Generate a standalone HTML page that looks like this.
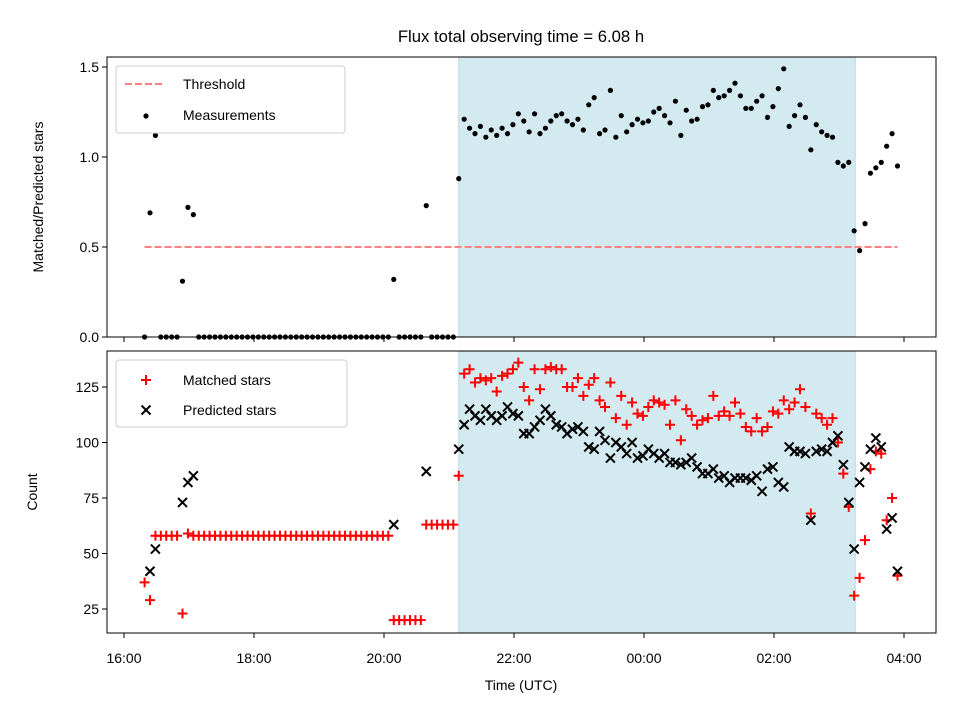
<!DOCTYPE html>
<html><head><meta charset="utf-8"><style>
body{margin:0;background:#fff}
svg{display:block;font-family:"Liberation Sans","DejaVu Sans",sans-serif}
</style></head><body>
<svg id="chart" width="960" height="720" viewBox="0 0 960 720" xmlns="http://www.w3.org/2000/svg">
<rect width="960" height="720" fill="#fff"/>
<text x="521" y="42" font-size="16.7" text-anchor="middle">Flux total observing time = 6.08 h</text>
<g id="gtop"></g><g id="gbot"></g>
</svg>
<script>
// minutes after 16:00
const times=[19,24,29,34,39,44,49,54,59,64,69,74,79,84,89,94,99,104,109,114,119,124,129,134,139,144,149,154,159,164,169,174,179,184,189,194,199,204,209,214,219,224,229,234,239,244,249,254,259,264,269,274,279,284,289,294,299,304,309,314,319,324,329,334,339,344,349,354,359,364,369,374,379,384,389,394,399,404,409,414,419,424,429,434,439,444,449,454,459,464,469,474,479,484,489,494,499,504,509,514,519,524,529,534,539,544,549,554,559,564,569,574,579,584,589,594,599,604,609,614,619,624,629,634,639,644,649,654,659,664,669,674,679,684,689,694,699,704,709,714];
const ratio=[0,0.69,1.12,0,0,0,0,0.31,0.72,0.68,0,0,0,0,0,0,0,0,0,0,0,0,0,0,0,0,0,0,0,0,0,0,0,0,0,0,0,0,0,0,0,0,0,0,0,0,0.32,0,0,0,0,0,0.73,0,0,0,0,0,0.88,
1.21,1.16,1.13,1.17,1.11,1.15,1.12,1.16,1.13,1.18,1.24,1.20,1.14,1.24,1.13,1.16,1.20,1.23,1.24,1.20,1.18,1.21,1.15,1.29,1.33,1.13,1.15,1.37,1.11,1.23,1.14,1.18,1.21,1.19,1.20,1.25,1.27,1.23,1.19,1.31,1.12,1.26,1.20,1.21,1.28,1.29,1.37,1.33,1.34,1.37,1.41,1.34,1.27,1.27,1.31,1.34,1.22,1.28,1.38,1.49,1.17,1.23,1.29,1.22,1.04,1.18,1.14,1.12,1.11,0.97,0.95,0.97,0.59,0.48,0.63,0.91,0.94,0.97,1.06,1.13,0.95];
const matched=[37,29,58,58,58,58,58,23,59,58,58,58,58,58,58,58,58,58,58,58,58,58,58,58,58,58,58,58,58,58,58,58,58,58,58,58,58,58,58,58,58,58,58,58,58,58,20,20,20,20,20,20,63,63,63,63,63,63,85,
131,133,127,129,128,129,123,130,131,133,136,125,119,133,124,133,134,133,133,125,125,129,121,126,129,119,116,127,111,121,108,118,113,112,116,119,118,117,108,119,101,115,112,108,110,111,121,112,114,112,118,113,107,105,111,105,107,114,113,119,115,118,124,116,68,113,111,108,111,100,86,71,31,39,56,88,96,95,65,75,40];
const predicted=[null,42,52,null,null,null,null,73,82,85,null,null,null,null,null,null,null,null,null,null,null,null,null,null,null,null,null,null,null,null,null,null,null,null,null,null,null,null,null,null,null,null,null,null,null,null,63,null,null,null,null,null,87,null,null,null,null,null,97,
108,115,112,110,115,112,110,112,116,113,112,104,104,107,110,115,112,108,107,104,106,107,105,98,97,105,101,93,100,98,95,100,93,94,97,95,93,95,91,91,90,91,93,89,86,86,88,84,85,82,84,84,84,83,85,78,88,89,82,80,98,96,96,95,65,96,97,96,100,103,90,73,52,82,89,97,102,98,61,66,42];
const shadeStart=309, shadeEnd=675;
const threshold=0.5;
const xTicks=[0,120,240,360,480,600,720];
const xTickLabels=["16:00","18:00","20:00","22:00","00:00","02:00","04:00"];
const topTicks=[0,0.5,1.0,1.5];
const botTicks=[25,50,75,100,125];

const NS="http://www.w3.org/2000/svg";
function mk(tag,attrs,parent){const e=document.createElementNS(NS,tag);for(const k in attrs)e.setAttribute(k,attrs[k]);parent.appendChild(e);return e;}
const L=107,R=936;
const xs=m=>124+m*65/60;
const yT=v=>337-v*180;
const yB=v=>609-(v-25)*2.22;
const gTop=document.getElementById('gtop'), gBot=document.getElementById('gbot');

function panel(g,y0,y1,name){
  const r=mk('rect',{x:xs(shadeStart),y:y0,width:xs(shadeEnd)-xs(shadeStart),height:y1-y0,fill:'#d4eaf1',stroke:'#b5dbe8','stroke-width':1},g);
  
  
}
panel(gTop,57,337,'top');panel(gBot,351,633,'bottom');

const th=mk('line',{x1:xs(times[0]),x2:xs(times[times.length-1]),y1:yT(threshold),y2:yT(threshold),stroke:'#ff8080','stroke-width':2,'stroke-dasharray':'7,3'},gTop);



times.forEach((t,i)=>{
  const x=xs(t);
  const c=mk('circle',{cx:x,cy:yT(ratio[i]),r:2.6,fill:'#000'},gTop);
  
  
});
times.forEach((t,i)=>{
  const x=xs(t),y=yB(matched[i]);
  const p=mk('path',{d:`M${x-5},${y}L${x+5},${y}M${x},${y-5}L${x},${y+5}`,stroke:'#ff0000','stroke-width':2},gBot);
  
  
});
times.forEach((t,i)=>{
  if(predicted[i]==null) return;
  const x=xs(t),y=yB(predicted[i]);
  const p=mk('path',{d:`M${x-4.5},${y-4.5}L${x+4.5},${y+4.5}M${x-4.5},${y+4.5}L${x+4.5},${y-4.5}`,stroke:'#000','stroke-width':2},gBot);
  
  
});

function frame(g,y0,y1,name){
  const f=mk('rect',{x:L,y:y0,width:R-L,height:y1-y0,fill:'none',stroke:'#000','stroke-width':1},g);
  
  
  xTicks.forEach(m=>{
    mk('line',{x1:xs(m),x2:xs(m),y1:y1,y2:y1+5,stroke:'#000'},g);
  });
}
frame(gTop,57,337,'top');frame(gBot,351,633,'bottom');
xTicks.forEach((m,i)=>{
  const t=mk('text',{x:xs(m),y:663,'font-size':14,'text-anchor':'middle'},gBot);
  t.textContent=xTickLabels[i];
  
  
});
topTicks.forEach(v=>{
  mk('line',{x1:L-5,x2:L,y1:yT(v),y2:yT(v),stroke:'#000'},gTop);
  const t=mk('text',{x:L-8,y:yT(v)+5,'font-size':14,'text-anchor':'end'},gTop);
  t.textContent=v.toFixed(1);
  
  
});
botTicks.forEach(v=>{
  mk('line',{x1:L-5,x2:L,y1:yB(v),y2:yB(v),stroke:'#000'},gBot);
  const t=mk('text',{x:L-8,y:yB(v)+5,'font-size':14,'text-anchor':'end'},gBot);
  t.textContent=v;
  
  
});
</script>
<svg style="position:absolute;left:0;top:0" width="960" height="720" xmlns="http://www.w3.org/2000/svg" font-family="Liberation Sans, DejaVu Sans, sans-serif">
<text transform="translate(43,197) rotate(-90)" font-size="14" text-anchor="middle">Matched/Predicted stars</text>
<text transform="translate(37,492) rotate(-90)" font-size="14" text-anchor="middle">Count</text>
<text x="521" y="690" font-size="14" text-anchor="middle">Time (UTC)</text>
<g>
<rect x="116" y="66" width="229" height="67" rx="3" fill="#fff" fill-opacity="0.8" stroke="#ccc"/>
<line x1="125" x2="165" y1="84" y2="84" stroke="#ff8080" stroke-width="2" stroke-dasharray="7,3"/>
<text x="183" y="89" font-size="14">Threshold</text>
<circle cx="146" cy="116" r="2.6" fill="#000"/>
<text x="183" y="120" font-size="14">Measurements</text>
</g>
<g>
<rect x="116" y="360" width="231" height="67" rx="3" fill="#fff" fill-opacity="0.8" stroke="#ccc"/>
<path d="M141,380H151M146,375V385" stroke="#ff0000" stroke-width="2"/>
<text x="183" y="385" font-size="14">Matched stars</text>
<path d="M141.5,405.5L150.5,414.5M141.5,414.5L150.5,405.5" stroke="#000" stroke-width="2"/>
<text x="183" y="415" font-size="14">Predicted stars</text>
</g>
</svg>
</body></html>
